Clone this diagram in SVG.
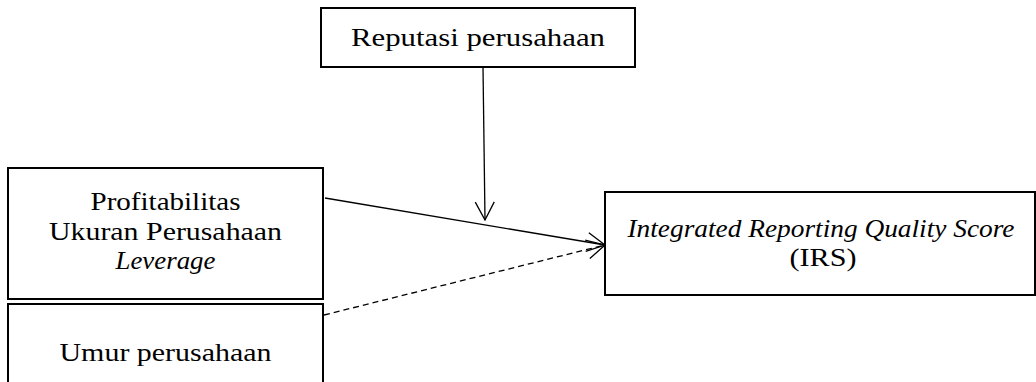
<svg xmlns="http://www.w3.org/2000/svg" width="1036" height="382" viewBox="0 0 1036 382">
<style>
.box{fill:#fff;stroke:#000;stroke-width:2}
.t{font-family:"Liberation Serif","Times New Roman",serif;font-size:26px;fill:#000;text-anchor:middle}
.i{font-style:italic}
.c{fill:none;stroke:#000;stroke-width:1.3}
.d{stroke-dasharray:6 4}
</style>
<defs>
<marker id="arr" viewBox="0 0 20 22" refX="19" refY="11" markerWidth="20" markerHeight="22" markerUnits="userSpaceOnUse" orient="auto">
<path d="M1,1.5 L19,11 L1,20.5" fill="none" stroke="#000" stroke-width="1.3"/>
</marker>
</defs>
<g id="connectors">
<line class="c" x1="483" y1="67" x2="485" y2="220" marker-end="url(#arr)"/>
<line class="c" x1="325" y1="198" x2="605" y2="245" marker-end="url(#arr)"/>
<line class="c d" x1="324" y1="315" x2="605" y2="245" marker-end="url(#arr)"/>
</g>
<g id="node-reputasi">
<rect class="box" x="321" y="8" width="314" height="59"/>
<text class="t" x="478" y="46" textLength="254" lengthAdjust="spacingAndGlyphs">Reputasi perusahaan</text>
</g>
<g id="node-variabel">
<rect class="box" x="8" y="168" width="315" height="131"/>
<text class="t" x="165.5" y="210" textLength="150" lengthAdjust="spacingAndGlyphs">Profitabilitas</text>
<text class="t" x="165.5" y="240" textLength="233" lengthAdjust="spacingAndGlyphs">Ukuran Perusahaan</text>
<text class="t i" x="165.5" y="269" textLength="100" lengthAdjust="spacingAndGlyphs">Leverage</text>
</g>
<g id="node-umur">
<rect class="box" x="8" y="304" width="315" height="90"/>
<text class="t" x="165.5" y="361" textLength="212" lengthAdjust="spacingAndGlyphs">Umur perusahaan</text>
</g>
<g id="node-irs">
<rect class="box" x="605" y="192" width="430" height="103"/>
<text class="t i" x="821" y="237" textLength="387" lengthAdjust="spacingAndGlyphs">Integrated Reporting Quality Score</text>
<text class="t" x="823" y="266" textLength="67" lengthAdjust="spacingAndGlyphs">(IRS)</text>
</g>
</svg>
